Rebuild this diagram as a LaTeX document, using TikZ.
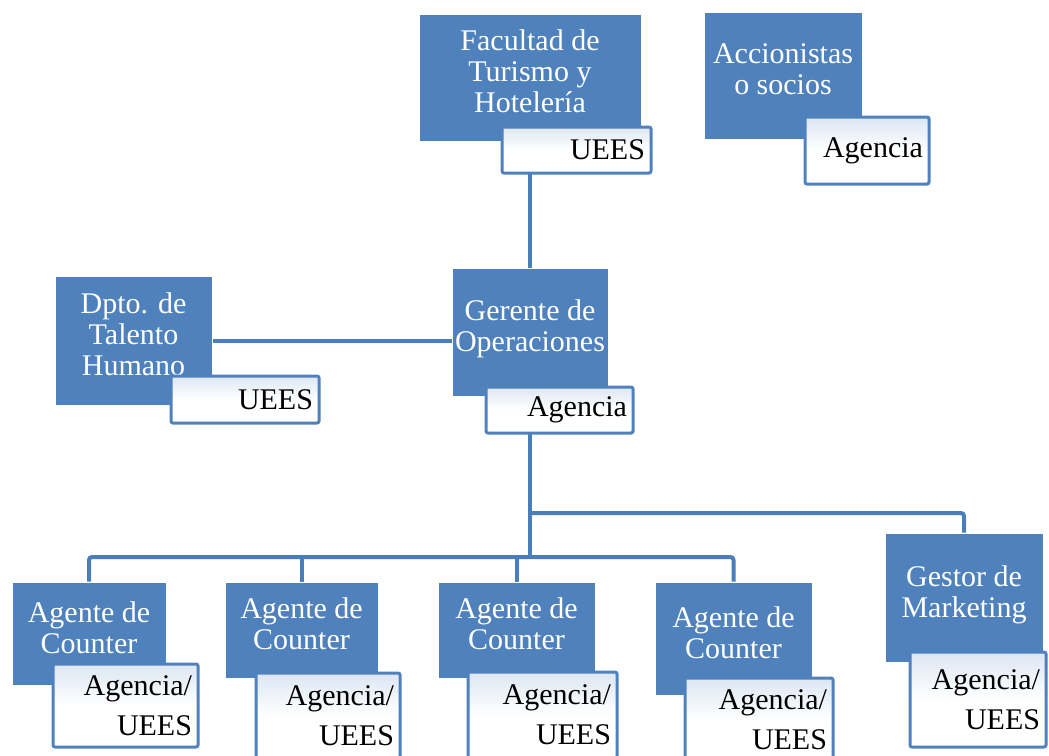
\documentclass[tikz,border=0pt]{standalone}
\usepackage{fontspec}
\setmainfont{Liberation Serif}
\usetikzlibrary{positioning,backgrounds}
\definecolor{boxblue}{HTML}{4F81BD}
\definecolor{linkblue}{HTML}{4A7EBB}
\definecolor{tagtop}{HTML}{DCE6F2}
% extra room under the last line, so the text sits a little high in the box
\newcommand{\liftline}{\\[-19pt]\mbox{}}
\tikzset{
  posbox/.style={
    draw=white, fill=boxblue, line width=0.6pt,
    align=center, inner sep=0pt, text=white,
    font=\fontsize{30}{31}\selectfont
  },
  tagbox/.style={
    draw=boxblue, line width=3pt, rounded corners=2pt,
    top color=tagtop, bottom color=white, middle color=white,
    align=right, inner xsep=6pt, inner ysep=0pt, text=black,
    font=\fontsize{30}{40}\selectfont
  },
  link/.style={draw=linkblue, line width=4pt, rounded corners=3pt}
}

\begin{document}
\begin{tikzpicture}[x=1pt,y=-1pt]
  \useasboundingbox (0,0) rectangle (1049,755);

  % top row
  \node[posbox, minimum width=222pt, minimum height=127pt] (fac) at (530,77.5) {Facultad de\\Turismo y\\Hotelería\liftline};
  \node[tagbox, text width=137pt, minimum height=46pt] (facTag) at (576.5,150) {UEES};
  \node[posbox, minimum width=158pt, minimum height=127pt] (acc) at (783,75.5) {Accionistas\\o socios\liftline};
  \node[tagbox, text width=112pt, minimum height=67pt] (accTag) at (867,150.5) {Agencia};

  % middle row
  \node[posbox, minimum width=157pt, minimum height=129pt] (dpto) at (133.5,340.5) {Dpto. de\\Talento\\Humano\liftline};
  \node[tagbox, text width=136pt, minimum height=47pt] (dptoTag) at (245,399.5) {UEES};
  \node[posbox, minimum width=156pt, minimum height=128pt] (ger) at (530,332) {Gerente de\\Operaciones\liftline};
  \node[tagbox, text width=135pt, minimum height=46pt] (gerTag) at (559.5,410) {Agencia};

  % bottom row
  \node[posbox, minimum width=154pt, minimum height=103pt] (ag1) at (89,633.5) {Agente de\\Counter\liftline};
  \node[tagbox, text width=133pt, minimum height=83pt] (ag1Tag) at (125.5,705.5) {Agencia/\\UEES};
  \node[posbox, minimum width=153pt, minimum height=96pt] (ag2) at (301.5,630) {Agente de\\Counter\liftline};
  \node[tagbox, text width=132pt, minimum height=85pt] (ag2Tag) at (328,715.5) {Agencia/\\UEES};
  \node[posbox, minimum width=157pt, minimum height=96pt] (ag3) at (516.5,630) {Agente de\\Counter\liftline};
  \node[tagbox, text width=137pt, minimum height=86pt] (ag3Tag) at (542.5,715) {Agencia/\\UEES};
  \node[posbox, minimum width=157pt, minimum height=113pt] (ag4) at (733.5,638.5) {Agente de\\Counter\liftline};
  \node[tagbox, text width=136pt, minimum height=84pt] (ag4Tag) at (759,720) {Agencia/\\UEES};
  \node[posbox, minimum width=158pt, minimum height=129pt] (ges) at (964,597.5) {Gestor de\\Marketing\liftline};
  \node[tagbox, text width=124pt, minimum height=95pt] (gesTag) at (978,699.5) {Agencia/\\UEES};

  \coordinate (busHigh) at (530,513);
  \coordinate (busLow) at (530,557);

  % connectors
  \begin{scope}[on background layer]
    \draw[link] (fac) -- (ger);
    \draw[link] (dpto) -- (dpto -| ger);
    \draw[link] (ger) -- (busLow);
    \draw[link] (ger |- busHigh) -| (ges);
    \draw[link] (ag1) |- (busLow) -| (ag4);
    \draw[link] (ag2) -- (ag2 |- busLow);
    \draw[link] (ag3) -- (ag3 |- busLow);
  \end{scope}
\end{tikzpicture}
\end{document}
